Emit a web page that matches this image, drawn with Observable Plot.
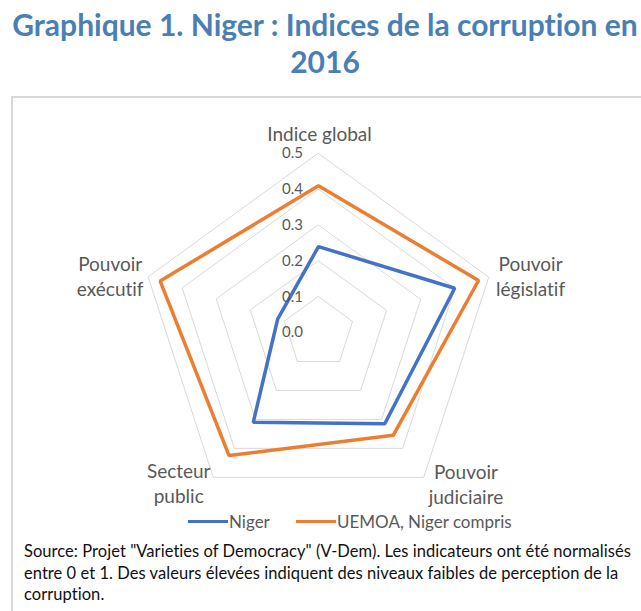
<!DOCTYPE html>
<html>
<head>
<meta charset="utf-8">
<script src="https://cdn.jsdelivr.net/npm/d3@7"></script>
<script src="https://cdn.jsdelivr.net/npm/@observablehq/plot@0.6"></script>
<style>
  html, body { margin: 0; padding: 0; background: #fff; }
  body { width: 641px; height: 611px; position: relative; overflow: hidden; font-family: Lato, "Open Sans", sans-serif; font-variant-ligatures: none; }
  #title { position: absolute; left: 9px; width: 632px; top: 6px; text-align: center; color: #4a7fb5; font-family: Lato, sans-serif; font-weight: 700; font-size: 30px; line-height: 37px; white-space: nowrap; }
  #box { position: absolute; left: 11px; top: 96px; width: 640px; height: 530px; border: 2px solid #d9d9d9; box-sizing: border-box; }
  #chart { position: absolute; left: 0; top: 100px; }
  #legend { position: absolute; top: 510px; left: 0; width: 641px; height: 22px; font-size: 17px; color: #595959; }
  #legend .item { position: absolute; top: 0; display: flex; align-items: center; height: 22px; }
  #legend .sw { display: inline-block; width: 40px; height: 0; border-top: 3.5px solid; margin-right: 1px; }
  #caption { position: absolute; left: 24px; top: 541px; font-size: 16.5px; letter-spacing: 0.05px; line-height: 21.5px; color: #111; white-space: nowrap; }
</style>
</head>
<body>
<div id="title">Graphique 1. Niger : Indices de la corruption en<br>2016</div>
<div id="box"></div>
<div id="chart"></div>
<div id="legend"></div>
<div id="caption">Source: Projet "Varieties of Democracy" (V-Dem). Les indicateurs ont été normalisés<br>entre 0 et 1. Des valeurs élevées indiquent des niveaux faibles de perception de la<br>corruption.</div>
<script>
// ---- data ----
const categories = ["Indice global", "Pouvoir législatif", "Pouvoir judiciaire", "Secteur public", "Pouvoir exécutif"];
const seriesNames = ["Niger", "UEMOA, Niger compris"];
const nigerValues = [0.24, 0.40, 0.315, 0.31, 0.12];
const uemoaValues = [0.41, 0.47, 0.355, 0.425, 0.465];
const tickValues = [0.0, 0.1, 0.2, 0.3, 0.4, 0.5];
const tickLabels = ["0.0", "0.1", "0.2", "0.3", "0.4", "0.5"];
const colors = ["#4472C4", "#ED7D31"];

// ---- derived tables ----
const longitude = d3.scalePoint(categories, [180, -108]); // clockwise from top
const points = [];
[nigerValues, uemoaValues].forEach((vals, s) => {
  vals.forEach((v, i) => points.push({series: seriesNames[s], key: categories[i], value: v}));
});
const rings = [];
tickValues.filter(t => t > 0).forEach(t => categories.forEach(c => rings.push({r: t, key: c})));
const ticks = tickValues.map((v, i) => ({v, label: tickLabels[i]}));

// label layout (radius / horizontal nudge per axis)
const labelR = [0.558, 0.517, 0.52, 0.517, 0.512];
const labelDx = [1, 36, 38, -31, -34];

const chart = Plot.plot({
  width: 641,
  height: 411,
  marginLeft: 139,
  marginRight: 144,
  marginTop: 53,
  marginBottom: 0,
  style: {fontFamily: "Lato, sans-serif", background: "transparent"},
  projection: {
    type: "azimuthal-equidistant",
    rotate: [0, -90],
    domain: d3.geoCircle().center([0, 90]).radius(0.5)(),
    clip: false
  },
  color: {domain: seriesNames, range: colors},
  marks: [
    Plot.line(rings, {
      x: d => longitude(d.key), y: d => 90 - d.r, z: "r",
      curve: "linear-closed", stroke: "#d9d9d9", strokeWidth: 1
    }),
    Plot.line(points, {
      x: d => longitude(d.key), y: d => 90 - d.value, z: "series",
      stroke: "series", curve: "linear-closed", strokeWidth: 3.5, strokeLinejoin: "miter"
    }),
    Plot.text(ticks, {
      x: 180, y: d => 90 - d.v, text: "label", dx: -26,
      fill: "#595959", fontSize: 15, textAnchor: "middle"
    }),
    ...categories.map((c, i) => Plot.text([c], {
      x: d => longitude(d),
      y: 90 - labelR[i],
      text: d => i === 0 ? d : d.replace(" ", "\n"),
      dx: labelDx[i],
      textAnchor: "middle",
      lineHeight: 1.32,
      fill: "#595959", fontSize: 19
    }))
  ]
});
document.getElementById("chart").appendChild(chart);

// legend
const legend = document.getElementById("legend");
const legendX = [188, 296];
seriesNames.forEach((name, i) => {
  const item = document.createElement("div");
  item.className = "item";
  item.style.left = legendX[i] + "px";
  const sw = document.createElement("span");
  sw.className = "sw";
  sw.style.borderTopColor = colors[i];
  item.appendChild(sw);
  item.appendChild(document.createTextNode(name));
  legend.appendChild(item);
});
</script>
</body>
</html>
